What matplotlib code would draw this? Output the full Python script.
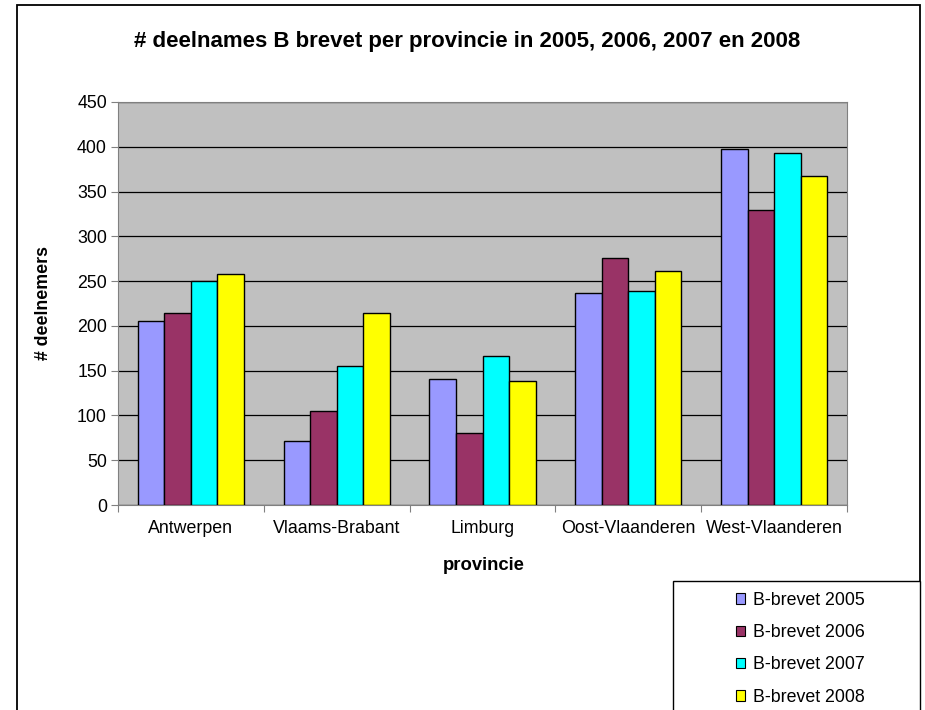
import matplotlib
matplotlib.use("Agg")
import matplotlib.pyplot as plt
from matplotlib.patches import Patch, Rectangle
import numpy as np

plt.rcParams['font.family'] = ['Liberation Sans', 'DejaVu Sans']

provinces = ["Antwerpen", "Vlaams-Brabant", "Limburg", "Oost-Vlaanderen", "West-Vlaanderen"]
series_names = ["B-brevet 2005", "B-brevet 2006", "B-brevet 2007", "B-brevet 2008"]
v2005 = [206, 71, 141, 237, 398]
v2006 = [214, 105, 80, 276, 329]
v2007 = [250, 155, 166, 239, 393]
v2008 = [258, 214, 139, 261, 367]
colors = ["#9999FF", "#993366", "#00FFFF", "#FFFF00"]
yticks = [0, 50, 100, 150, 200, 250, 300, 350, 400, 450]

W, H = 925, 710
fig = plt.figure(figsize=(W / 100, H / 100), dpi=100)

# outer chart border
fig.patches.append(Rectangle((17 / W, -0.05), (920 - 17) / W, 1.05 - 5 / H,
                             transform=fig.transFigure, fill=False,
                             edgecolor="black", linewidth=1.3, zorder=0))

ax = fig.add_axes([118 / W, 1 - 505 / H, (847 - 118) / W, (505 - 102) / H])
ax.set_facecolor("#C0C0C0")

x = np.arange(len(provinces))
bw = 1 / 5.5
all_vals = [v2005, v2006, v2007, v2008]
for i, (vals, c) in enumerate(zip(all_vals, colors)):
    ax.bar(x + (i - 1.5) * bw, vals, width=bw, color=c, edgecolor="black",
           linewidth=1.0, zorder=3)

fs = 12.8
ax.set_xlim(-0.5, len(provinces) - 0.5)
ax.set_ylim(0, 450)
ax.set_yticks(yticks)
ax.set_yticklabels([str(t) for t in yticks], fontsize=fs)
ax.yaxis.grid(True, color="black", linewidth=0.9, zorder=1)
ax.set_axisbelow(True)

ax.set_xticks(np.arange(len(provinces) + 1) - 0.5)
ax.set_xticklabels([])
ax.set_xticks(x, minor=True)
ax.set_xticklabels(provinces, minor=True, fontsize=fs)
ax.tick_params(axis="x", which="minor", length=0, pad=11)
ax.tick_params(axis="x", which="major", length=5, color="#808080")
ax.tick_params(axis="y", length=5, color="#808080", pad=3)

for s in ["top", "right", "left", "bottom"]:
    ax.spines[s].set_color("#808080")

fig.text(467 / W, 1 - 41 / H, "# deelnames B brevet per provincie in 2005, 2006, 2007 en 2008",
         ha="center", va="center", fontsize=16, fontweight="bold")
fig.text(484 / W, 1 - 565 / H, "provincie", ha="center", va="center",
         fontsize=13.3, fontweight="bold")
fig.text(43 / W, 1 - 303 / H, "# deelnemers", ha="center", va="center",
         rotation=90, fontsize=fs, fontweight="bold")

# legend box
fig.patches.append(Rectangle((673 / W, -0.05), (920 - 673) / W, 0.05 + 1 - 581 / H,
                             transform=fig.transFigure, facecolor="white",
                             edgecolor="black", linewidth=1.0, zorder=2))
handles = [Patch(facecolor=c, edgecolor="black", linewidth=0.8) for c in colors]
leg = fig.legend(handles, series_names, loc="upper left",
                 bbox_to_anchor=(727 / W, 1 - 583 / H), frameon=False,
                 fontsize=fs, handlelength=0.52, handleheight=0.52,
                 handletextpad=0.45, labelspacing=0.86, borderpad=0)
leg.set_zorder(5)

fig.savefig("out.png", dpi=100)
